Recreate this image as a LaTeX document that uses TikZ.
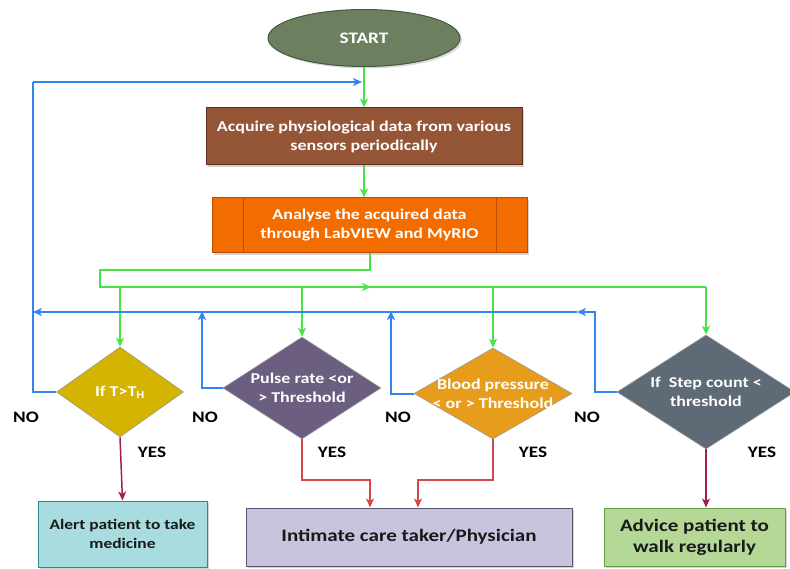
\documentclass[tikz,border=0pt]{standalone}
\usepackage{fontspec}
\setmainfont{Carlito}[FakeStretch=1.2]
\usetikzlibrary{shapes.geometric,arrows.meta,shadows}
\definecolor{gline}{RGB}{70,228,70}
\definecolor{bline}{RGB}{50,132,240}
\definecolor{maroon}{RGB}{160,30,80}
\definecolor{redl}{RGB}{200,40,40}
\definecolor{startfill}{RGB}{108,128,96}
\definecolor{startdraw}{RGB}{70,88,62}
\definecolor{acqfill}{RGB}{148,86,54}
\definecolor{acqdraw}{RGB}{95,45,25}
\definecolor{anafill}{RGB}{242,108,0}
\definecolor{anadraw}{RGB}{190,75,0}
\definecolor{dAfill}{RGB}{212,180,0}
\definecolor{dBfill}{RGB}{108,94,128}
\definecolor{dCfill}{RGB}{232,156,28}
\definecolor{dDfill}{RGB}{94,106,118}
\definecolor{alfill}{RGB}{168,220,222}
\definecolor{aldraw}{RGB}{40,140,140}
\definecolor{infill}{RGB}{200,196,222}
\definecolor{indraw}{RGB}{90,85,110}
\definecolor{adfill}{RGB}{182,216,150}
\definecolor{addraw}{RGB}{100,160,70}
\tikzset{
  tip/.style={-{Stealth[length=9pt,width=8pt,inset=2.5pt]}},
  gl/.style={draw=gline,line width=1.8pt},
  bl/.style={draw=bline,line width=2pt},
  wtxt/.style={text=white,font=\bfseries\fontsize{15}{19}\selectfont,align=center},
  btxt/.style={text=black!90,font=\bfseries\fontsize{14.5}{19}\selectfont,align=center},
  bigtxt/.style={text=black!90,font=\bfseries\fontsize{17.5}{21}\selectfont,align=center},
  procbox/.style={rectangle,line width=1pt,inner sep=0pt,drop shadow={opacity=0.35,shadow xshift=2pt,shadow yshift=-2pt}},
  diam/.style={diamond,draw=white!60!black,line width=0.6pt,inner sep=0pt},
  lab/.style={font=\bfseries\fontsize{16}{18}\selectfont,text=black}
}
\begin{document}
\begin{tikzpicture}[x=1pt,y=-1pt]
\useasboundingbox (0,0) rectangle (790,569);
% nodes
\node[ellipse,fill=startfill,draw=startdraw,line width=1pt,minimum width=192pt,minimum height=57pt,inner sep=0pt,wtxt,
      font=\bfseries\fontsize{16}{19}\selectfont,
      drop shadow={opacity=0.3,shadow xshift=2pt,shadow yshift=-2pt}] (start) at (364,38) {START};
\node[procbox,fill=acqfill,draw=acqdraw,minimum width=316pt,minimum height=57pt,wtxt] (acq) at (364,136.5)
  {Acquire physiological data from various\\sensors periodically};
\node[procbox,fill=anafill,draw=anadraw,minimum width=315pt,minimum height=55pt,wtxt] (ana) at (369.5,225.5)
  {Analyse the acquired data\\through LabVIEW and MyRIO};
\draw[anadraw,line width=1pt] ([xshift=32pt]ana.north west) -- ([xshift=32pt]ana.south west);
\draw[anadraw,line width=1pt] ([xshift=-31pt]ana.north east) -- ([xshift=-31pt]ana.south east);

\node[diam,fill=dAfill,minimum width=127pt,minimum height=90pt,
      label={[wtxt]center:If T>T\textsubscript{H}}] (d1) at (120,392) {};
\node[diam,fill=dBfill,minimum width=158pt,minimum height=102pt,
      label={[wtxt]center:Pulse rate <or\\> Threshold}] (d2) at (302,388) {};
\node[diam,fill=dCfill,minimum width=158pt,minimum height=91pt,
      label={[wtxt]center:Blood pressure\\< or > Threshold}] (d3) at (493,393.5) {};
\node[diam,fill=dDfill,minimum width=178pt,minimum height=114pt,
      label={[wtxt]center:If\ \ Step count <\\threshold}] (d4) at (706,392) {};

\node[procbox,fill=alfill,draw=aldraw,minimum width=169pt,minimum height=66pt,btxt] (alert) at (122.5,534)
  {Alert patient to take\\medicine};
\node[procbox,fill=infill,draw=indraw,minimum width=326pt,minimum height=58pt,bigtxt] (inti) at (409,537)
  {Intimate care taker/Physician};
\node[procbox,fill=adfill,draw=addraw,minimum width=181pt,minimum height=58pt,bigtxt] (adv) at (694.5,537)
  {Advice patient to\\walk regularly};

% coordinates
\coordinate (gA) at (370,270);
\coordinate (gB) at (100,287);
\coordinate (gM) at (371,287);
\coordinate (gE) at (706,287);
\coordinate (b0) at (33,312);
\coordinate (bTop) at (33,82);
\coordinate (bIn) at (362,82);
\coordinate (bR) at (595,312);
\coordinate (bM) at (577,312);
\coordinate (b2) at (202,312);
\coordinate (b3) at (391,312);
\coordinate (r2) at (370,480);
\coordinate (r3) at (418,480);

% green flow
\draw[gl,tip] (start.south) -- (acq.north);
\draw[gl,tip] (acq.south) -- (ana.north -| acq.south);
\draw[gl] (ana.south -| gA) -- (gA) -| (gB) |- (gE);
\draw[gl,tip] (gB) -- (gM);
\draw[gl,tip] (gE) -- (d4.north);
\draw[gl,tip] (d1.north |- gB) -- (d1.north);
\draw[gl,tip] (d2.north |- gB) -- (d2.north);
\draw[gl,tip] (d3.north |- gB) -- (d3.north);

% blue NO loops
\draw[bl] (d1.west) -| (bTop);
\draw[bl,tip] (bTop) -- (bIn);
\draw[bl,tip] (d4.west) -| (bR) -- (bM);
\draw[bl] (bM) -- (b0);
\draw[bl,tip] (b2) -- ([xshift=-0.01pt]b0);
\draw[bl,tip] (d2.west) -| ([yshift=0.9pt]b2);
\draw[bl,tip] (d3.west) -| ([yshift=0.9pt]b3);

% YES arrows
\draw[maroon,line width=1.5pt,tip] (d1.south) -- (alert.north);
\draw[redl!85!white,line width=1.5pt,tip] (d2.south) |- (r2) -- (r2 |- inti.north);
\draw[redl!85!white,line width=1.5pt,tip] (d3.south) |- (r3) -- (r3 |- inti.north);
\draw[maroon,line width=1.5pt,tip] (d4.south) -- (d4.south |- adv.north);

% labels
\node[lab] (no1) at (26,417) {NO};
\node[lab] (no2) at (205,417) {NO};
\node[lab] (no3) at (398,417) {NO};
\node[lab] (no4) at (587,417) {NO};
\node[lab] (y1) at (152,452) {YES};
\node[lab] (y2) at (332,452) {YES};
\node[lab] (y3) at (533,452) {YES};
\node[lab] (y4) at (762,452) {YES};
\end{tikzpicture}
\end{document}
